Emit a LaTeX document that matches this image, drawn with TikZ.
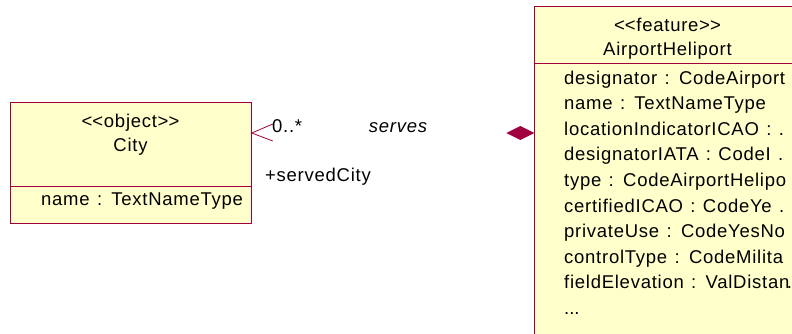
\documentclass[tikz,border=0pt]{standalone}
\usepackage{fontspec}
\usepackage{tikz}
\usetikzlibrary{calc,positioning}
\newfontfamily\umlfont[LetterSpace=4,WordSpace=1.25]{Liberation Sans}
\definecolor{umlred}{RGB}{160,0,64}
\definecolor{umlfill}{RGB}{255,255,204}
\newcommand{\stereo}[1]{<\kern0pt<#1>\kern0pt>}

\begin{document}
\begin{tikzpicture}[
    x=1pt, y=-1pt,
    classbox/.style={draw=umlred, fill=umlfill, line width=0.8pt, inner sep=0pt, anchor=north west},
    txt/.style={font=\umlfont\fontsize{18.5}{22}\selectfont, inner sep=0pt},
    endline/.style={draw=umlred, line width=0.8pt}
]
\useasboundingbox (0,0) rectangle (792,333);
\clip (0,0) rectangle (792,333);
% Class boxes
\node[classbox, minimum width=241pt, minimum height=120.5pt] (city) at (10,102.3) {};
\node[classbox, minimum width=267pt, minimum height=345pt] (ah) at (534.3,5.5) {};
\draw[endline] (city.west |- 0,186.7) -- (city.east |- 0,186.7);
\draw[endline] (ah.west |- 0,63.5) -- (ah.east |- 0,63.5);

% Names and stereotypes
\node[txt, anchor=base] (citystereo) at (130.5,127.5) {\stereo{object}};
\node[txt, anchor=base] (cityname) at (130.5,151) {City};
\node[txt, anchor=base west] (cityattr) at (41,205.5) {name : TextNameType};
\node[txt, anchor=base] (ahstereo) at (667.5,31.5) {\stereo{feature}};
\node[txt, anchor=base] (ahname) at (667.5,55) {AirportHeliport};

% Attributes of AirportHeliport
\foreach \attr [count=\i from 0] in {designator : CodeAirport, name : TextNameType,
    locationIndicatorICAO : ., designatorIATA : CodeI ., type : CodeAirportHelipo,
    certifiedICAO : CodeYe ., privateUse : CodeYesNo, controlType : CodeMilita,
    fieldElevation : ValDistan\kern-2.5pt.}
  \node[txt, anchor=base west] (ahattr\i) at (564,84+25.6*\i) {\attr};
\node[txt, anchor=base west] (ahmore) at (564,314.4) {.\kern0pt.\kern0pt.};

% Association ends
\coordinate (citymark) at (city.east |- 0,133);
\coordinate (ahmark) at (ah.west |- 0,133);
\draw[endline] ($(citymark)+(21,-9)$) -- (citymark) -- ($(citymark)+(21,8)$);
\fill[umlred] (ahmark) -- ++(-14,-7) -- ++(-14,7) -- ++(14,7) -- cycle;

\node[txt, anchor=base west] (mult) at (272,132) {0..*};
\node[txt, anchor=base] (assoc) at (398,132) {\itshape serves};
\node[txt, anchor=base west] (role) at (265,181.5) {+servedCity};

\end{tikzpicture}
\end{document}
